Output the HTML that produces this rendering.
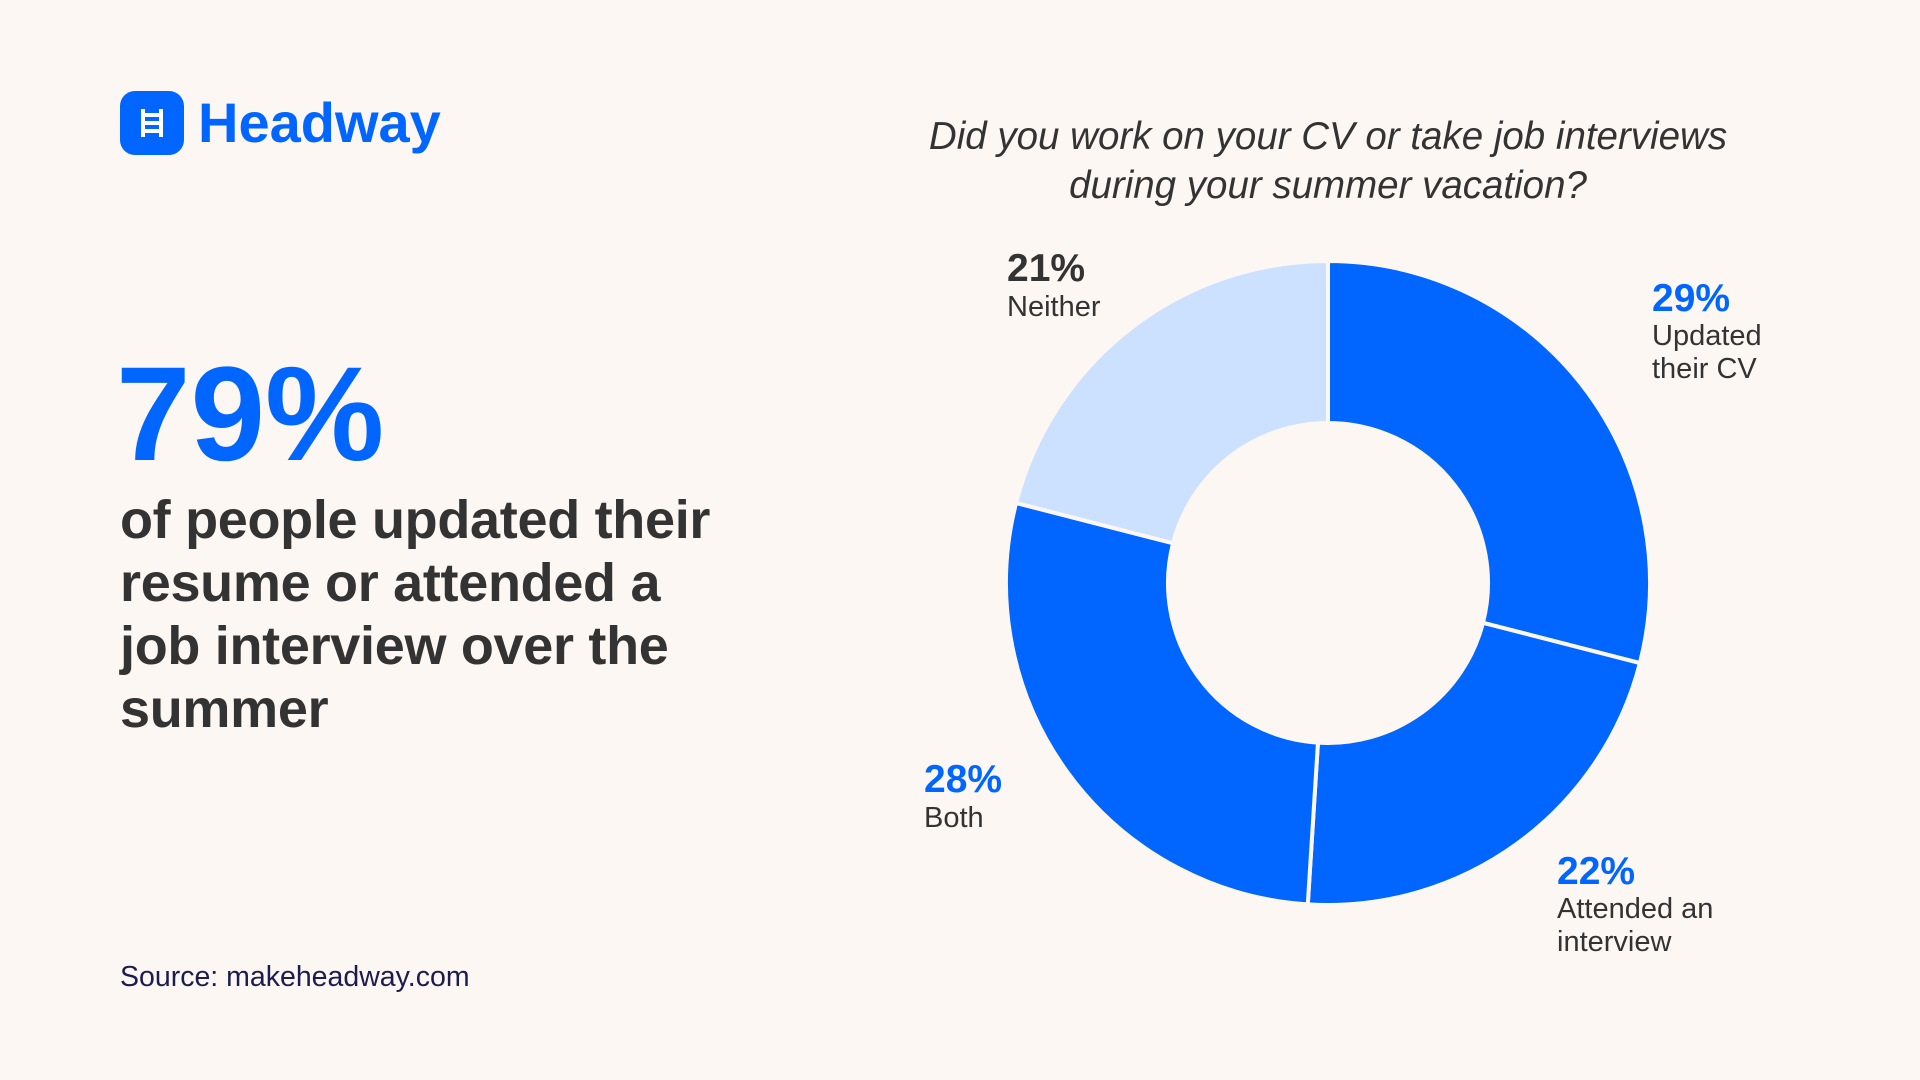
<!DOCTYPE html>
<html><head><meta charset="utf-8">
<style>
html,body{margin:0;padding:0;}
body{width:1920px;height:1080px;background:#fdf7f4;position:relative;overflow:hidden;font-family:"Liberation Sans",sans-serif;color:#333;}
.abs{position:absolute;white-space:nowrap;}
</style></head>
<body>
<div class="abs" style="left:120px;top:91px;width:64px;height:64px;border-radius:15px;background:#0066ff;">
<svg width="64" height="64" viewBox="0 0 64 64"><g stroke="#fff" stroke-width="4" fill="none"><line x1="23" y1="18" x2="23" y2="46"/><line x1="41" y1="18" x2="41" y2="46"/><line x1="23" y1="24" x2="41" y2="24"/><line x1="23" y1="32" x2="41" y2="32"/><line x1="23" y1="40" x2="41" y2="40"/></g></svg>
</div>
<div class="abs" style="left:198px;top:90px;font-size:56px;font-weight:bold;color:#0066ff;line-height:66px;">Headway</div>

<div class="abs" style="left:116px;top:345px;font-size:134px;font-weight:bold;color:#0066ff;line-height:140px;">79%</div>
<div class="abs" style="left:120px;top:489px;font-size:54px;font-weight:bold;color:#333;line-height:63px;letter-spacing:-0.3px;">of people updated their<br>resume or attended a<br>job interview over the<br>summer</div>
<div class="abs" style="left:120px;top:960px;font-size:28.5px;color:#1c1c4e;line-height:34px;">Source: makeheadway.com</div>

<div class="abs" style="left:828px;width:1000px;top:112px;text-align:center;font-size:38.5px;font-style:italic;color:#333;line-height:49px;">Did you work on your CV or take job interviews<br>during your summer vacation?</div>

<svg id="donut" class="abs" style="left:0;top:0;" width="1920" height="1080"></svg>

<div class="abs" style="left:1007px;top:248px;"><div style="font-size:39px;font-weight:bold;color:#333;line-height:42px;">21%</div><div style="font-size:29px;line-height:34px;">Neither</div></div>
<div class="abs" style="left:1652px;top:278px;"><div style="font-size:39px;font-weight:bold;color:#0066ff;line-height:42px;">29%</div><div style="font-size:29px;line-height:33px;">Updated<br>their CV</div></div>
<div class="abs" style="left:924px;top:759px;"><div style="font-size:39px;font-weight:bold;color:#0066ff;line-height:42px;">28%</div><div style="font-size:29px;line-height:34px;">Both</div></div>
<div class="abs" style="left:1557px;top:851px;"><div style="font-size:39px;font-weight:bold;color:#0066ff;line-height:42px;">22%</div><div style="font-size:29px;line-height:33px;">Attended an<br>interview</div></div>

<script>
const categories = ["Updated their CV", "Attended an interview", "Both", "Neither"];
const values = [29, 22, 28, 21];
const colors = ["#0066ff", "#0066ff", "#0066ff", "#cce0ff"];
const cx = 1328, cy = 583, rOut = 322, rIn = 160;
const svg = document.getElementById('donut');
const total = values.reduce((a, b) => a + b, 0);
function pt(r, a) { return [cx + r * Math.sin(a), cy - r * Math.cos(a)]; }
let start = 0;
values.forEach((v, i) => {
  const end = start + v / total * 2 * Math.PI;
  const large = (end - start) > Math.PI ? 1 : 0;
  const p1 = pt(rOut, start), p2 = pt(rOut, end), p3 = pt(rIn, end), p4 = pt(rIn, start);
  const d = `M${p1[0]},${p1[1]} A${rOut},${rOut} 0 ${large} 1 ${p2[0]},${p2[1]} L${p3[0]},${p3[1]} A${rIn},${rIn} 0 ${large} 0 ${p4[0]},${p4[1]} Z`;
  const path = document.createElementNS('http://www.w3.org/2000/svg', 'path');
  path.setAttribute('d', d);
  path.setAttribute('fill', colors[i]);
  path.setAttribute('stroke', '#fdf7f4');
  path.setAttribute('stroke-width', '4');
  path.setAttribute('stroke-linejoin', 'round');
  
  
  svg.appendChild(path);
  start = end;
});
</script>
</body></html>
